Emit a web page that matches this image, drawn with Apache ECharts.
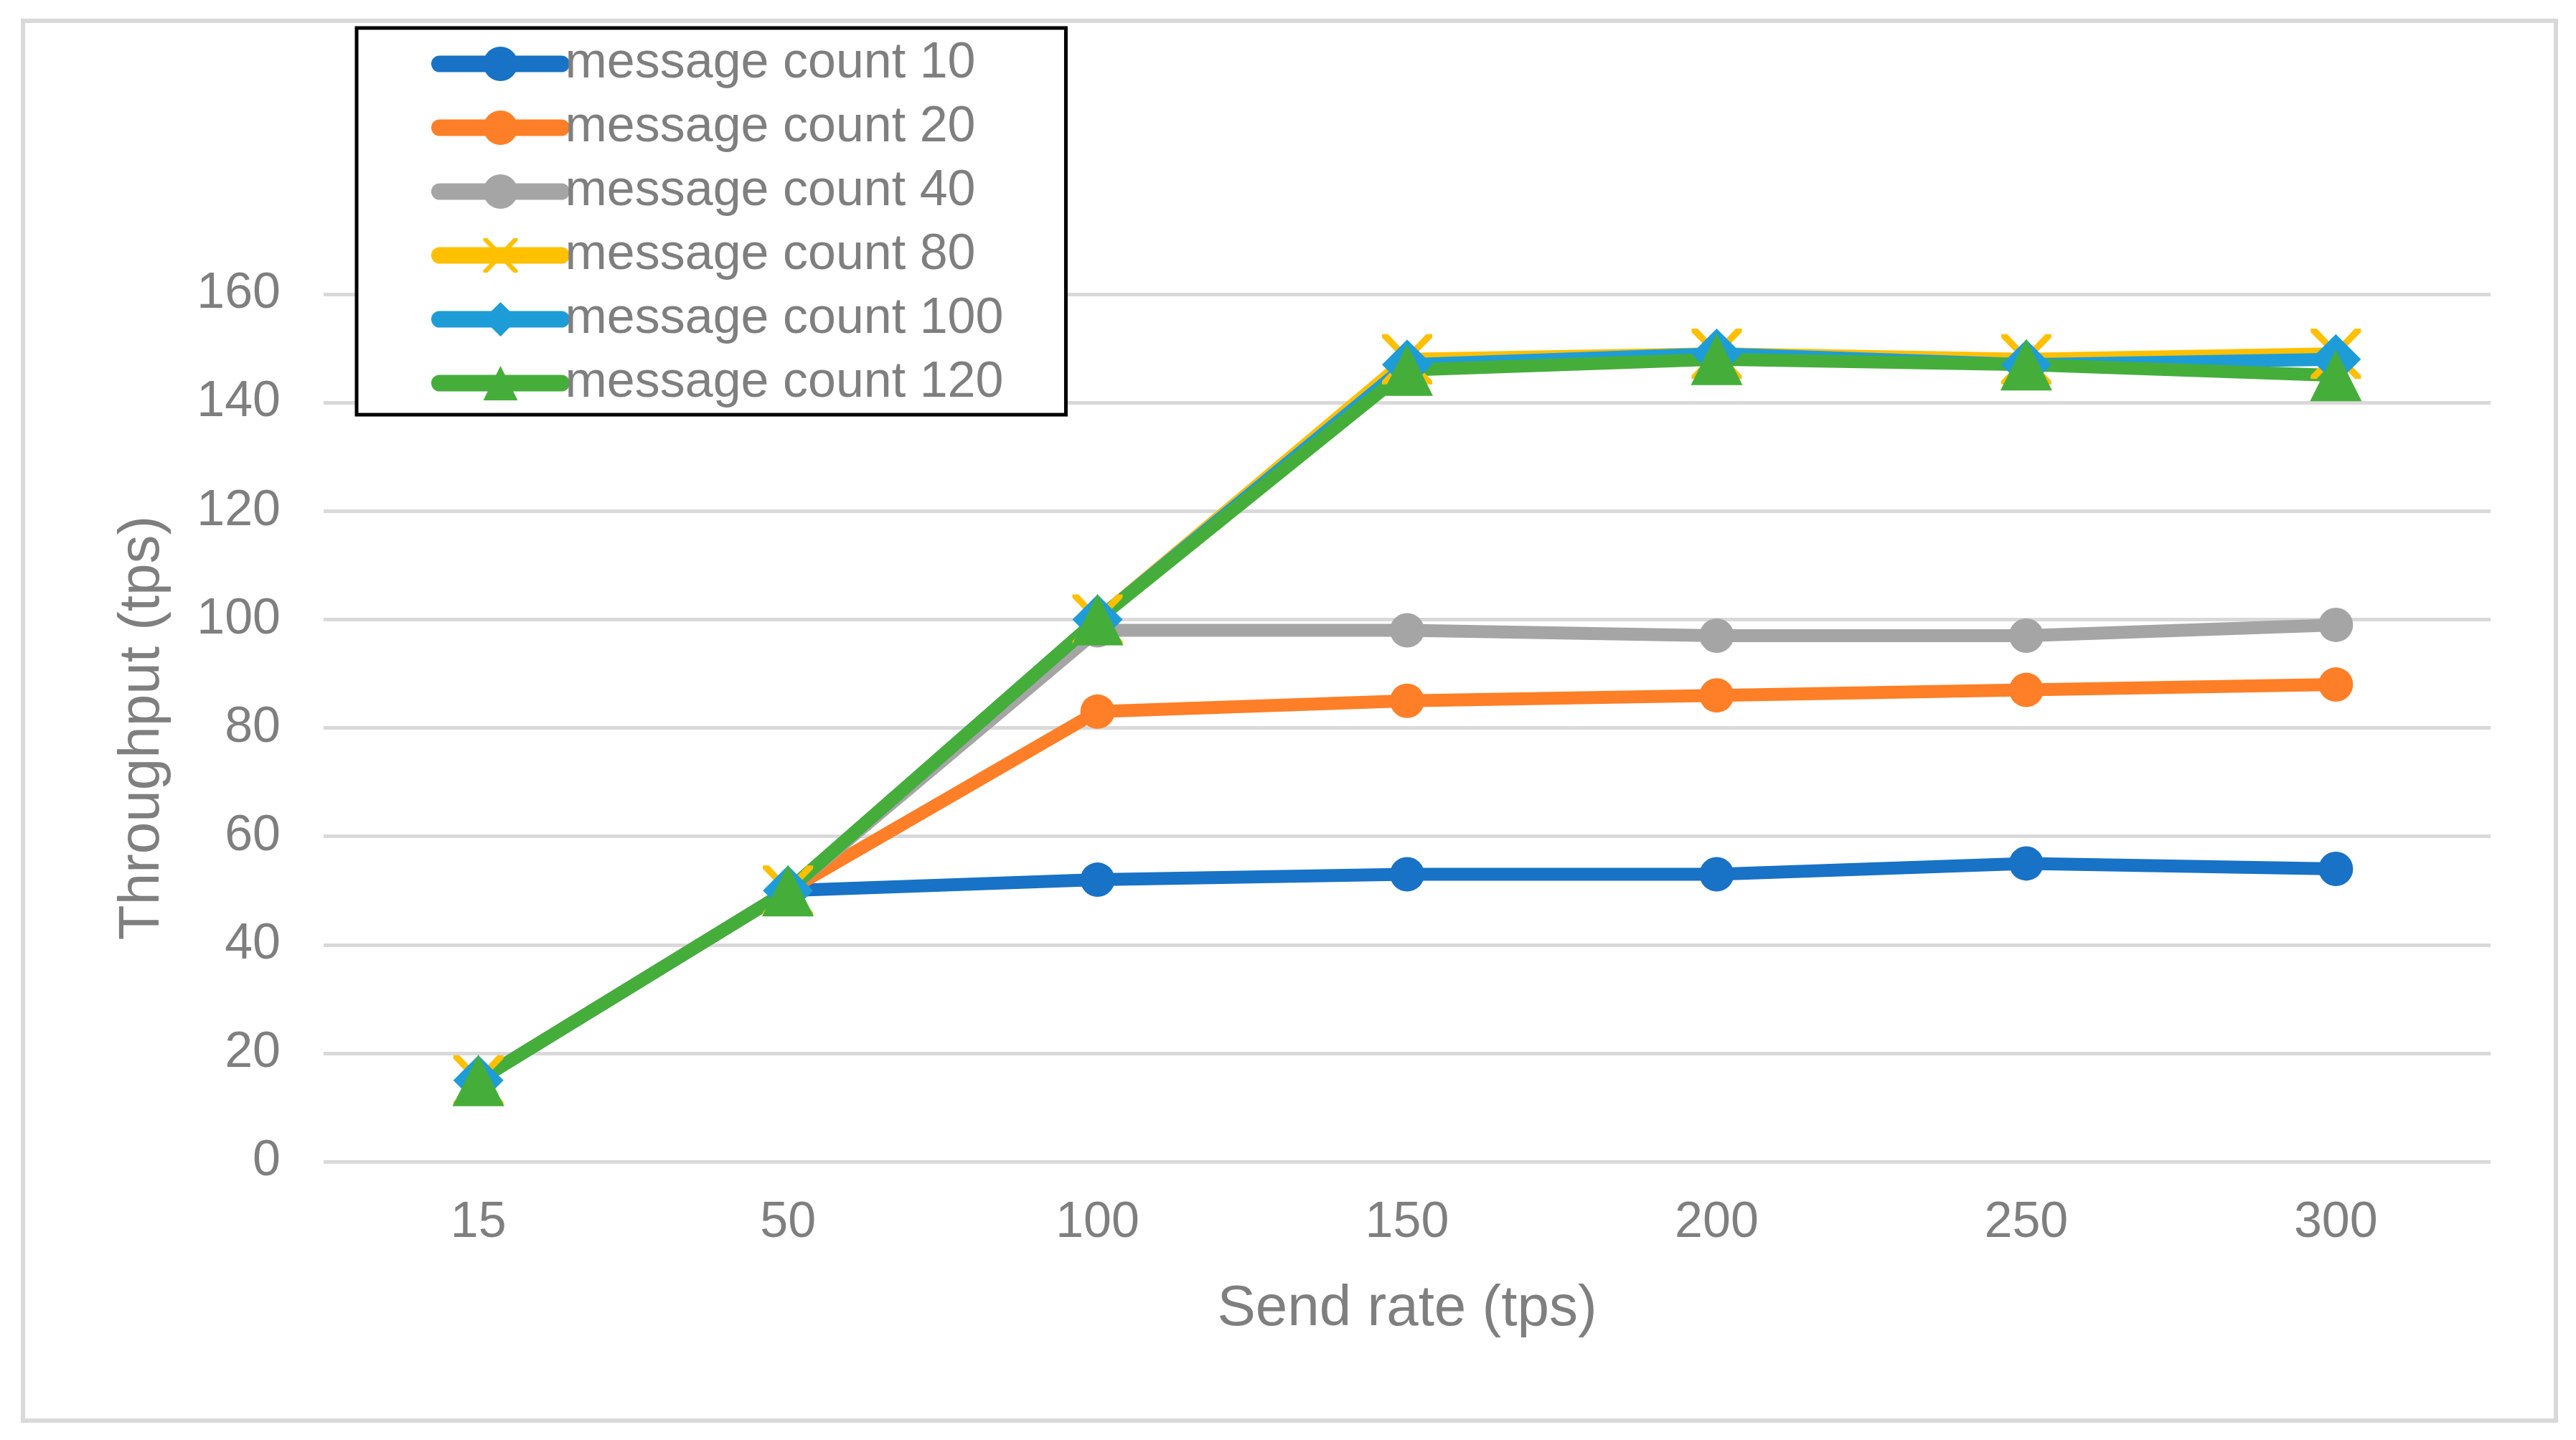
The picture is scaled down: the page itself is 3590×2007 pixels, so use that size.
<!DOCTYPE html>
<html>
<head>
  <meta charset="utf-8" />
  <script src="https://cdn.jsdelivr.net/npm/echarts/dist/echarts.min.js"></script>
  <title>Throughput vs send rate</title>
  <style>
    html, body { margin: 0; padding: 0; background: #fff; }
    #chart { width: 3590px; height: 2007px; }
  </style>
</head>
<body>
  <div id="chart"></div>

  <script>
    // x axis: send rate (tps)
    const sendRates = ["15", "50", "100", "150", "200", "250", "300"];

    // throughput (tps) per message count
    const count10 = [15, 50, 52, 53, 53, 55, 54];
    const count20 = [15, 50, 83, 85, 86, 87, 88];
    const count40 = [15, 50, 98, 98, 97, 97, 99];
    const count80 = [15, 50, 100, 148, 149, 148, 149];
    const count100 = [15, 50, 100, 147, 149, 147, 148];
    const count120 = [15, 50, 100, 146, 148, 147, 145];

    const seriesNames = [
      "message count 10",
      "message count 20",
      "message count 40",
      "message count 80",
      "message count 100",
      "message count 120",
    ];

    const textGray = "#7f7f7f";
    const font = "'Liberation Sans', Arial, sans-serif";

    // excel style "x" marker
    const crossPath =
      "path://M0,0 L12,0 L50,40 L88,0 L100,0 L100,7 L58,50 L100,93 L100,100 L88,100 L50,60 L12,100 L0,100 L0,93 L42,50 L0,7 Z";

    function lineSeries(name, data, color, symbol, size) {
      return {
        name: name,
        type: "line",
        data: data,
        symbol: symbol,
        symbolSize: size,
        showAllSymbol: true,
        itemStyle: { color: color },
        lineStyle: { color: color, width: 18, cap: "round", join: "round" },
      };
    }

    const chart = echarts.init(document.getElementById("chart"));

    const option = {
      animation: false,
      backgroundColor: "#fff",
      textStyle: { fontFamily: font },
      graphic: [
        {
          type: "rect",
          z: -10,
          shape: { x: 32, y: 29, width: 3530, height: 1951 },
          style: { fill: "none", stroke: "#d9d9d9", lineWidth: 6 },
        },
      ],
      grid: {
        left: 451,
        right: 119,
        top: 410,
        bottom: 388,
      },
      legend: {
        orient: "vertical",
        left: 497,
        top: 39,
        padding: [15, 87, 9, 104],
        itemWidth: 170,
        itemHeight: 60,
        itemGap: 19,
        selectedMode: false,
        borderColor: "#000",
        borderWidth: 5,
        backgroundColor: "#fff",
        lineStyle: { width: 23, cap: "round" },
        textStyle: { fontSize: 70, color: textGray, fontFamily: font },
        data: seriesNames,
      },
      xAxis: {
        type: "category",
        data: sendRates,
        boundaryGap: true,
        name: "Send rate (tps)",
        nameLocation: "middle",
        nameGap: 166,
        nameTextStyle: { fontSize: 80, color: textGray, fontFamily: font },
        axisLine: { show: false },
        axisTick: { show: false },
        axisLabel: { fontSize: 70, color: textGray, margin: 51, fontFamily: font },
      },
      yAxis: {
        type: "value",
        min: 0,
        max: 160,
        interval: 20,
        name: "Throughput (tps)",
        nameLocation: "middle",
        nameGap: 212,
        nameTextStyle: { fontSize: 80, color: textGray, fontFamily: font },
        axisLine: { show: false },
        axisTick: { show: false },
        axisLabel: { fontSize: 70, color: textGray, margin: 60, fontFamily: font },
        splitLine: { lineStyle: { color: "#d9d9d9", width: 5 } },
      },
      series: [
        lineSeries(seriesNames[0], count10, "#1872c6", "circle", 48),
        lineSeries(seriesNames[1], count20, "#fe7f27", "circle", 48),
        lineSeries(seriesNames[2], count40, "#a5a5a5", "circle", 48),
        lineSeries(seriesNames[3], count80, "#ffc000", crossPath, 70),
        lineSeries(seriesNames[4], count100, "#1e9cd8", "diamond", 70),
        lineSeries(seriesNames[5], count120, "#45ae3b", "triangle", 72),
      ],
    };

    chart.setOption(option);
  </script>
</body>
</html>
